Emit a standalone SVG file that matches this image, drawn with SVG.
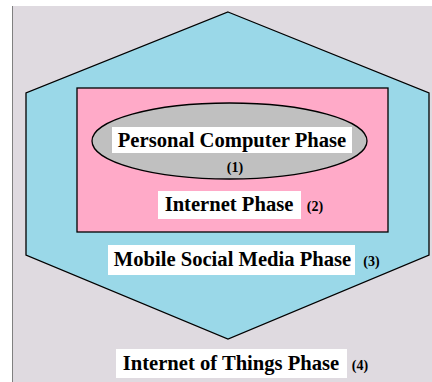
<svg xmlns="http://www.w3.org/2000/svg" width="432" height="382" viewBox="0 0 432 382">
<style>
.lbl{font-weight:bold;fill:#000;}
.big{font-size:20.6px;}
.num{font-size:14px;}
.box{fill:#fff;stroke:none;}
.shape{stroke:#000;stroke-width:1.3;}
</style>
<rect x="0" y="0" width="432" height="382" fill="#fff"/>
<rect x="12" y="6" width="420" height="376" fill="#DFDAE0"/>
<line x1="12.5" y1="6" x2="12.5" y2="382" stroke="#808080" stroke-width="1"/>
<g id="iot">
<polygon class="shape" points="228,12 429,93 429,255 228,339 26,255 26,93" fill="#9AD8E8"/>
</g>
<g id="internet">
<rect class="shape" x="77" y="88" width="311" height="144" fill="#FFAAC8"/>
</g>
<g id="pc">
<ellipse class="shape" cx="229.5" cy="141" rx="137.5" ry="38" fill="#C0C0C0"/>
</g>
<g id="labels" font-family="Liberation Serif, Times New Roman, serif">
<rect class="box" x="112" y="127" width="240" height="26"/>
<text class="lbl big" x="232" y="147" text-anchor="middle">Personal Computer Phase</text>
<text class="lbl num" x="235" y="172" text-anchor="middle">(1)</text>
<rect class="box" x="158" y="191" width="143" height="28"/>
<text class="lbl big" x="229" y="211" text-anchor="middle">Internet Phase</text>
<text class="lbl num" x="315" y="211" text-anchor="middle">(2)</text>
<rect class="box" x="108" y="245" width="247" height="30"/>
<text class="lbl big" x="232.5" y="266" text-anchor="middle">Mobile Social Media Phase</text>
<text class="lbl num" x="371.5" y="266" text-anchor="middle">(3)</text>
<rect class="box" x="116" y="349" width="231" height="29"/>
<text class="lbl big" x="231" y="370" text-anchor="middle">Internet of Things Phase</text>
<text class="lbl num" x="360" y="370" text-anchor="middle">(4)</text>
</g>
</svg>
